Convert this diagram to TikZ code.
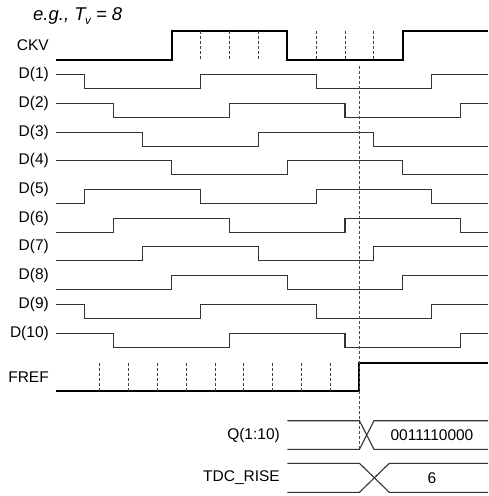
\documentclass[tikz,border=0pt]{standalone}
\usepackage{fontspec}
\setmainfont{Liberation Sans}
\newcommand{\sx}[1]{56+28.9*#1}
\tikzset{
  sig/.style={line width=1.1pt, draw=black!80},
  clk/.style={line width=2pt, draw=black},
  tick/.style={line width=0.9pt, draw=black!75, dash pattern=on 3pt off 2pt},
  mark line/.style={line width=1pt, draw=black!70, dash pattern=on 3pt off 2pt},
  lbl/.style={anchor=east, inner sep=0pt, font=\fontsize{15.5}{18}\selectfont},
  txt/.style={inner sep=0pt, font=\fontsize{15.5}{18}\selectfont}
}
\begin{document}
\begin{tikzpicture}[x=1pt,y=-1pt]
\useasboundingbox (0,0) rectangle (488,496);
% title
\node[anchor=west, inner sep=0pt, font=\fontsize{18.5}{21}\selectfont\itshape] (title) at (33,16) {e.g., T\kern-0.5pt\raisebox{-4.5pt}{\fontsize{11.5}{12}\selectfont v} = 8};
% labels
\node[lbl] (lckv) at (49,45.5) {CKV};
\foreach \i in {1,...,10} {
  \node[lbl] (ld\i) at (49,{74.7+28.7*(\i-1)}) {D(\i)};
}
\node[lbl] (lfref) at (49,377) {FREF};
\node[lbl] (lq) at (280,435) {Q(1:10)};
\node[lbl] (ltdc) at (280,477.5) {TDC\_RISE};
% CKV
\draw[clk] (56,60) -| ({\sx{4}},30.7) -| ({\sx{8}},60) -| ({\sx{12}},30.7) -- (488,30.7);
\foreach \k in {5,6,7,9,10,11} \draw[tick] ({\sx{\k}},30.7) -- ({\sx{\k}},60);
% D(1)
\def\h{74.7}\def\l{88.7}
\draw[sig] (56,\h) -| ({\sx{1}},\l) -| ({\sx{5}},\h) -| ({\sx{9}},\l) -| ({\sx{13}},\h) -- (488,\h);
% D(2)
\def\h{103.4}\def\l{117.4}
\draw[sig] (56,\h) -| ({\sx{2}},\l) -| ({\sx{6}},\h) -| ({\sx{10}},\l) -| ({\sx{14}},\h) -- (488,\h);
% D(3)
\def\h{132.1}\def\l{146.1}
\draw[sig] (56,\h) -| ({\sx{3}},\l) -| ({\sx{7}},\h) -| ({\sx{11}},\l) -- (488,\l);
% D(4)
\def\h{160.8}\def\l{174.8}
\draw[sig] (56,\h) -| ({\sx{4}},\l) -| ({\sx{8}},\h) -| ({\sx{12}},\l) -- (488,\l);
% D(5)
\def\h{189.5}\def\l{203.5}
\draw[sig] (56,\l) -| ({\sx{1}},\h) -| ({\sx{5}},\l) -| ({\sx{9}},\h) -| ({\sx{13}},\l) -- (488,\l);
% D(6)
\def\h{218.2}\def\l{232.2}
\draw[sig] (56,\l) -| ({\sx{2}},\h) -| ({\sx{6}},\l) -| ({\sx{10}},\h) -| ({\sx{14}},\l) -- (488,\l);
% D(7)
\def\h{246.9}\def\l{260.9}
\draw[sig] (56,\l) -| ({\sx{3}},\h) -| ({\sx{7}},\l) -| ({\sx{11}},\h) -- (488,\h);
% D(8)
\def\h{275.6}\def\l{289.6}
\draw[sig] (56,\l) -| ({\sx{4}},\h) -| ({\sx{8}},\l) -| ({\sx{12}},\h) -- (488,\h);
% D(9)
\def\h{304.3}\def\l{318.3}
\draw[sig] (56,\h) -| ({\sx{1}},\l) -| ({\sx{5}},\h) -| ({\sx{9}},\l) -| ({\sx{13}},\h) -- (488,\h);
% D(10)
\def\h{333.3}\def\l{347.3}
\draw[sig] (56,\h) -| ({\sx{2}},\l) -| ({\sx{6}},\h) -| ({\sx{10}},\l) -| ({\sx{14}},\h) -- (488,\h);
% FREF
\draw[clk] (56,391.3) -| ({\sx{10.5}},362.7) -- (488,362.7);
\foreach \k in {1.5,2.5,...,9.5} \draw[tick] ({\sx{\k}},362.7) -- ({\sx{\k}},391.3);
% sampling instant
\coordinate (mtop) at ({\sx{10.5}},66);
\coordinate (mbot) at ({\sx{10.5}},449.3);
\draw[mark line] (mtop) -- (mbot);
% Q bus
\draw[sig] (287.3,420.7) -- ({\sx{10.5}},420.7) -- (374,449.3) -- (488,449.3);
\draw[sig] (287.3,449.3) -- ({\sx{10.5}},449.3) -- (374,420.7) -- (488,420.7);
\node[txt] (qval) at (432,435) {0011110000};
% TDC_RISE bus
\draw[sig] (287.3,463.3) -- ({\sx{10.5}},463.3) -- (389.3,492.3) -- (488,492.3);
\draw[sig] (287.3,492.3) -- ({\sx{10.5}},492.3) -- (389.3,463.3) -- (488,463.3);
\node[txt] (tval) at (432,477.8) {6};
\end{tikzpicture}
\end{document}
